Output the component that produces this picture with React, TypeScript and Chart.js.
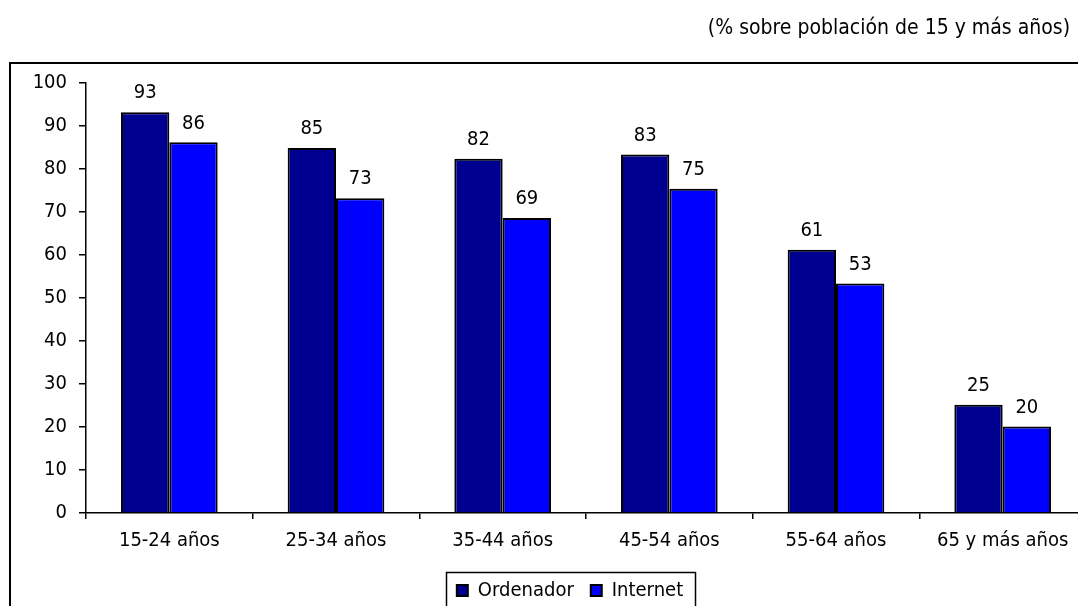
import React, { useEffect, useRef } from "react";
import { Chart, registerables } from "chart.js";

Chart.register(...registerables);

// ---- data ----
const categories = ["15-24 años", "25-34 años", "35-44 años", "45-54 años", "55-64 años", "65 y más años"];
const seriesNames = ["Ordenador", "Internet"];
const ordenadorValues = [93.2, 84.9, 82.4, 83.4, 61.2, 25.2];
const internetValues = [86.2, 73.2, 68.6, 75.4, 53.4, 20.1];
const yMin = 0;
const yMax = 100;
const yStep = 10;
const subtitle = "(% sobre población de 15 y más años)";

const FONT = '"DejaVu Sans Condensed", "DejaVu Sans", sans-serif';
const FS = 20;
const CW = 1140;
const CH = 640;

const decorPlugin = {
  id: "decor",
  afterDatasetsDraw(chart: any) {
    const ctx = chart.ctx;
    ctx.save();
    ctx.font = `${FS}px ${FONT}`;
    ctx.fillStyle = "#000";
    ctx.textAlign = "center";
    ctx.textBaseline = "middle";
    chart.data.datasets.forEach((ds: any, di: number) => {
      const meta = chart.getDatasetMeta(di);
      meta.data.forEach((el: any, i: number) => {
        const v = ds.data[i];
        ctx.fillText(String(Math.round(v)), el.x, el.y - 19);
      });
    });
    ctx.restore();
  },
  afterDraw(chart: any) {
    const ctx = chart.ctx;
    ctx.save();
    // outer frame
    ctx.strokeStyle = "#000";
    ctx.lineWidth = 2;
    ctx.strokeRect(10, 63, 1115, 565);
    // subtitle
    ctx.font = `21px ${FONT}`;
    ctx.fillStyle = "#000";
    ctx.textAlign = "right";
    ctx.textBaseline = "middle";
    ctx.fillText(subtitle, 1070, 29);
    // legend frame
    const hb = chart.legend && chart.legend.legendHitBoxes;
    if (hb && hb.length) {
      const l = Math.min(...hb.map((h: any) => h.left)) - 11;
      const r = Math.max(...hb.map((h: any) => h.left + h.width)) + 12;
      const c = hb[0].top + hb[0].height / 2;
      ctx.lineWidth = 1.5;
      ctx.strokeRect(Math.round(l) + 0.5, Math.round(c - 19) + 0.5, Math.round(r - l), 38);
    }
    ctx.restore();
  },
};

export default function App() {
  const ref = useRef<HTMLCanvasElement | null>(null);
  useEffect(() => {
    if (!ref.current) return;
    Chart.defaults.font.family = FONT;
    Chart.defaults.font.size = FS;
    Chart.defaults.color = "#000";
    const chart = new Chart(ref.current, {
      type: "bar",
      data: {
        labels: categories,
        datasets: [
          {
            label: seriesNames[0],
            data: ordenadorValues,
            backgroundColor: "#000090",
            borderColor: "#000",
            borderWidth: 2,
            categoryPercentage: 0.58,
            barPercentage: 1,
          },
          {
            label: seriesNames[1],
            data: internetValues,
            backgroundColor: "#0000FF",
            borderColor: "#000",
            borderWidth: 2,
            categoryPercentage: 0.58,
            barPercentage: 1,
          },
        ],
      },
      options: {
        responsive: false,
        animation: false,
        devicePixelRatio: 1,
        layout: { padding: { left: 0, right: 0, top: 83, bottom: 29.5 } },
        plugins: {
          legend: {
            position: "bottom",
            labels: {
              boxWidth: 11,
              boxHeight: 11,
              padding: 17,
              color: "#000",
              font: { size: FS, family: FONT },
            },
          },
          tooltip: { enabled: false },
          title: { display: false },
        },
        scales: {
          x: {
            offset: true,
            grid: {
              display: true,
              offset: true,
              drawOnChartArea: false,
              drawTicks: true,
              tickLength: 6,
              color: "#000",
              lineWidth: 1.5,
            },
            border: { display: true, color: "#000", width: 1.5 },
            ticks: { color: "#000", font: { size: FS, family: FONT }, padding: 10, maxRotation: 0, autoSkip: false },
            afterFit: (s: any) => {
              s.height = 50.5;
            },
          },
          y: {
            min: yMin,
            max: yMax,
            ticks: { stepSize: yStep, color: "#000", font: { size: FS, family: FONT }, padding: 12 },
            grid: { drawOnChartArea: false, drawTicks: true, tickLength: 7, color: "#000", lineWidth: 1.5 },
            border: { display: true, color: "#000", width: 1.5 },
            afterFit: (s: any) => {
              s.width = 86;
            },
          },
          spacer: {
            type: "linear",
            position: "right",
            display: true,
            grid: { display: false, drawTicks: false },
            border: { display: false },
            ticks: { display: false },
            afterFit: (s: any) => {
              s.width = CW - 1086;
            },
          },
        },
      },
      plugins: [decorPlugin],
    });
    return () => chart.destroy();
  }, []);
  return (
    <div style={{ position: "fixed", left: 0, top: 0, width: 1078, height: 606, overflow: "hidden", background: "#fff" }}>
      <canvas ref={ref} width={CW} height={CH} style={{ width: CW, height: CH, display: "block" }} />
    </div>
  );
}
